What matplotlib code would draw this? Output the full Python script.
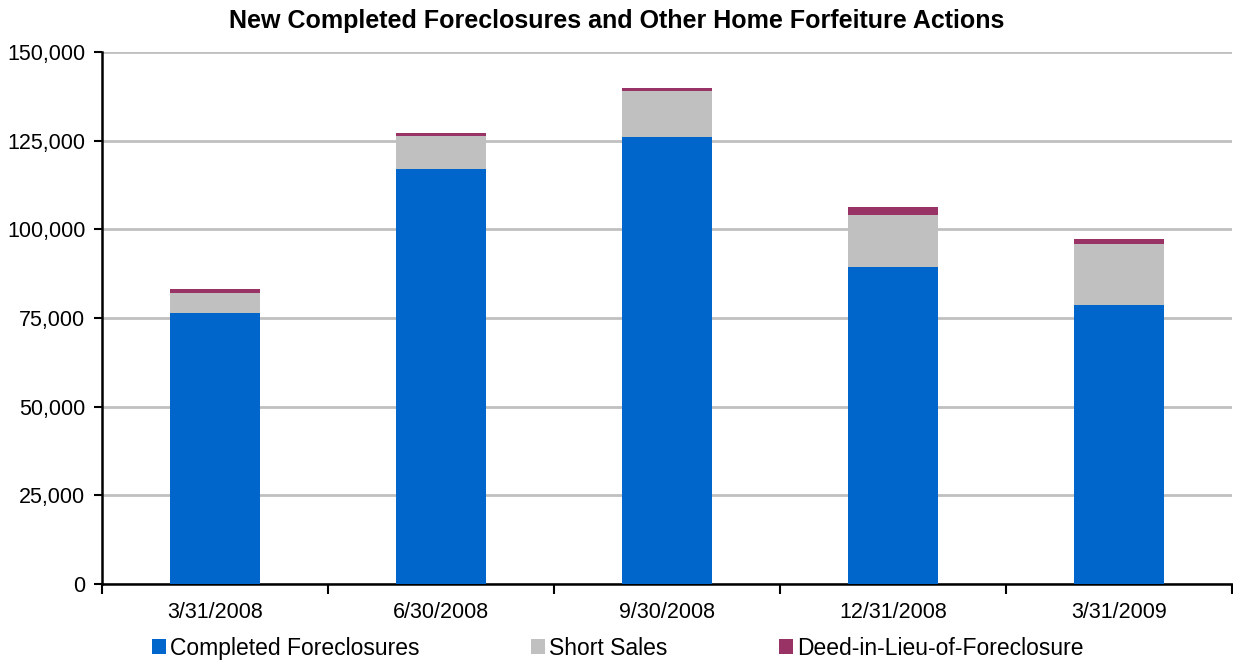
import matplotlib
matplotlib.use("Agg")
import matplotlib.pyplot as plt
from matplotlib.ticker import FuncFormatter, FixedLocator
import numpy as np

plt.rcParams['font.family'] = ['Liberation Sans', 'DejaVu Sans']

categories = ["3/31/2008", "6/30/2008", "9/30/2008", "12/31/2008", "3/31/2009"]
completed = [76400, 117000, 126000, 89400, 78700]
short_sales = [5600, 9300, 13000, 14600, 17200]
deed_in_lieu = [1200, 800, 800, 2300, 1400]
series_names = ["Completed Foreclosures", "Short Sales", "Deed-in-Lieu-of-Foreclosure"]
colors = ["#0066CC", "#C0C0C0", "#993366"]

fig = plt.figure(figsize=(12.33, 6.62), dpi=100)
ax = fig.add_axes([0.0827, 0.1178, 0.9165, 0.8037])

x = np.arange(len(categories))
w = 0.4
b1 = ax.bar(x, completed, w, color=colors[0], label=series_names[0], zorder=3)
b2 = ax.bar(x, short_sales, w, bottom=completed, color=colors[1], label=series_names[1], zorder=3)
bottom2 = np.array(completed) + np.array(short_sales)
b3 = ax.bar(x, deed_in_lieu, w, bottom=bottom2, color=colors[2], label=series_names[2], zorder=3)

ax.set_xlim(-0.5, len(categories) - 0.5)
ax.set_ylim(0, 150000)
ax.set_yticks(np.arange(0, 150001, 25000))
ax.yaxis.set_major_formatter(FuncFormatter(lambda v, p: f"{int(v):,}"))
ax.yaxis.grid(True, color="#C0C0C0", linewidth=2, zorder=0)
ax.set_axisbelow(True)

ax.set_xticks(x)
ax.set_xticklabels(categories)
ax.xaxis.set_minor_locator(FixedLocator(np.arange(-0.5, len(categories), 1.0)))
ax.tick_params(axis='x', which='major', length=0, pad=13, labelsize=15.5)
ax.tick_params(axis='x', which='minor', length=7, width=1.5, direction='out')
ax.tick_params(axis='y', which='major', length=6, width=1.5, direction='out', labelsize=15.5, pad=6)

for s in ['top', 'right']:
    ax.spines[s].set_visible(False)
for s in ['left', 'bottom']:
    ax.spines[s].set_linewidth(1.8)
    ax.spines[s].set_color('black')

fig.text(0.5, 0.969, "New Completed Foreclosures and Other Home Forfeiture Actions",
         fontsize=18, fontweight='bold', ha='center', va='center')

leg = fig.legend(handles=[b1, b2, b3], labels=series_names, loc='center left',
                 bbox_to_anchor=(0.114, 0.021), ncol=3, frameon=False,
                 fontsize=16.5, handlelength=0.6, handleheight=0.6,
                 handletextpad=0.2, columnspacing=4.85, borderpad=0)

fig.savefig("out.png", dpi=100)
